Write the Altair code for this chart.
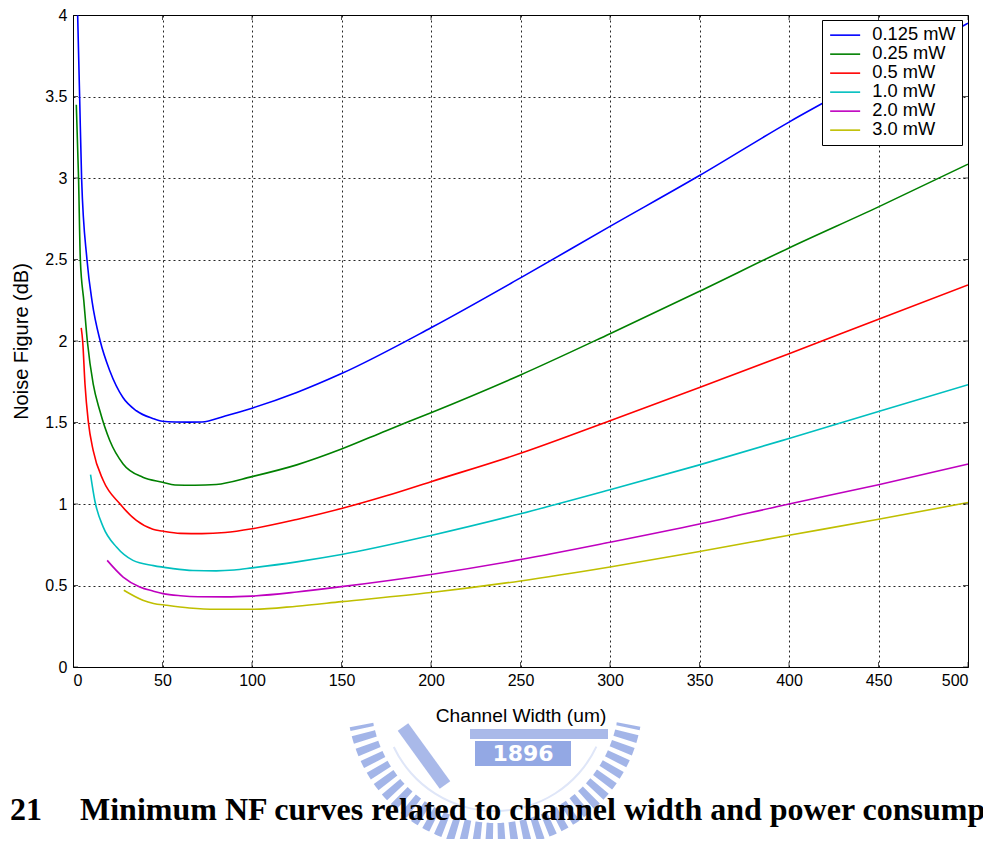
import altair as alt
import pandas as pd

# ---------------- data ----------------
series = ["0.125 mW", "0.25 mW", "0.5 mW", "1.0 mW", "2.0 mW", "3.0 mW"]
colors = ["#0000ff", "#008000", "#ff0000", "#00bfbf", "#bf00bf", "#bfbf00"]

x_0125 = [2.6, 3.7, 4.8, 7.8, 10.7, 15.2, 20.6, 27.9, 35.4, 44.6, 50, 57, 65, 72, 85, 100, 125, 150, 200, 250, 300, 350, 400, 450, 500]
y_0125 = [4.0, 3.5, 3.0, 2.5, 2.24, 2.0, 1.816, 1.653, 1.572, 1.525, 1.508, 1.503, 1.502, 1.503, 1.54, 1.588, 1.684, 1.80, 2.081, 2.387, 2.703, 3.015, 3.343, 3.645, 3.95]

x_025 = [1.85, 3.1, 4.1, 6.1, 8, 11.3, 15, 20.6, 28, 39, 50, 57, 68, 80, 100, 125, 150, 175, 200, 250, 300, 350, 400, 450, 500]
y_025 = [3.45, 3.0, 2.5, 2.24, 2.0, 1.735, 1.572, 1.388, 1.246, 1.164, 1.134, 1.117, 1.115, 1.12, 1.168, 1.24, 1.337, 1.45, 1.56, 1.792, 2.045, 2.305, 2.571, 2.823, 3.085]

x_05 = [4.6, 5.4, 6.7, 8.5, 11.3, 16.9, 26.2, 35.4, 44.6, 50, 60, 72, 85, 100, 125, 150, 175, 200, 250, 300, 350, 400, 450, 500]
y_05 = [2.08, 2.0, 1.735, 1.51, 1.327, 1.144, 1.001, 0.899, 0.845, 0.834, 0.82, 0.818, 0.825, 0.848, 0.905, 0.972, 1.05, 1.137, 1.311, 1.511, 1.715, 1.922, 2.134, 2.344]

x_10 = [9.8, 12.2, 16.9, 24.3, 33.5, 45, 55, 67, 80, 90, 100, 125, 150, 200, 250, 300, 350, 400, 450, 500]
y_10 = [1.18, 1.02, 0.858, 0.736, 0.654, 0.622, 0.605, 0.592, 0.59, 0.595, 0.608, 0.645, 0.69, 0.807, 0.940, 1.087, 1.240, 1.402, 1.568, 1.732]

x_20 = [19.1, 28, 37.3, 45, 50.3, 60, 70, 85, 100, 125, 150, 200, 250, 300, 350, 400, 450, 500]
y_20 = [0.654, 0.552, 0.491, 0.465, 0.45, 0.437, 0.431, 0.43, 0.435, 0.46, 0.493, 0.568, 0.659, 0.765, 0.877, 1.0, 1.118, 1.245]

x_30 = [28.4, 39, 45, 52, 65, 80, 100, 125, 150, 200, 250, 300, 350, 400, 450, 500]
y_30 = [0.471, 0.41, 0.39, 0.379, 0.362, 0.354, 0.354, 0.373, 0.401, 0.457, 0.528, 0.614, 0.709, 0.808, 0.906, 1.009]

x_ticks = [0, 50, 100, 150, 200, 250, 300, 350, 400, 450, 500]
y_ticks = [0, 0.5, 1, 1.5, 2, 2.5, 3, 3.5, 4]

x_title = "Channel Width (um)"
y_title = "Noise Figure (dB)"
fig_label = "Fig. 21"
caption = "Minimum NF curves related to channel width and power consumption"
seal_text = "1896"

# ---------------- build tables ----------------
xs = [x_0125, x_025, x_05, x_10, x_20, x_30]
ys = [y_0125, y_025, y_05, y_10, y_20, y_30]
frames = []
for name, xv, yv in zip(series, xs, ys):
    frames.append(pd.DataFrame({"x": xv, "y": yv, "series": name}))
df = pd.concat(frames, ignore_index=True)

W, H = 895, 652
FONT = "Liberation Sans"
SEAL = "#93a8e4"

xscale = alt.Scale(domain=[0, 500], nice=False, zero=False)
yscale = alt.Scale(domain=[0, 4], nice=False, zero=False)

lines = alt.Chart(df).mark_line(strokeWidth=1.6, interpolate="monotone", clip=True).encode(
    x=alt.X("x:Q", scale=xscale, axis=alt.Axis(
        values=x_ticks, title=x_title, grid=True, ticks=False, domain=False,
        labelFontSize=16, labelPadding=5, titleFontSize=19.2, titleFontWeight="normal",
        titlePadding=18, labelFont=FONT, titleFont=FONT)),
    y=alt.Y("y:Q", scale=yscale, axis=alt.Axis(
        values=y_ticks, format="~g", title=y_title, grid=True, ticks=False, domain=False,
        labelFontSize=16, labelPadding=6, titleFontSize=20, titleFontWeight="normal",
        titlePadding=13, labelFont=FONT, titleFont=FONT)),
    color=alt.Color("series:N", scale=alt.Scale(domain=series, range=colors),
                    legend=alt.Legend(orient="none", legendX=749, legendY=5, title=None,
                                      fillColor="white", strokeColor="black", padding=6,
                                      symbolType="M-3,0H3", symbolSize=100, symbolStrokeWidth=1.6,
                                      symbolOffset=8,
                                      labelFontSize=18.3, labelFont=FONT, labelOffset=18,
                                      labelExpr="datum.label + '\u00a0\u00a0\u00a0'",
                                      rowPadding=0, cornerRadius=0)),
    detail="series:N",
    order="x:Q",
)

xt = pd.DataFrame({"x": x_ticks})
yt = pd.DataFrame({"y": y_ticks})
tick_bottom = alt.Chart(xt).mark_tick(color="black", size=10, thickness=1, clip=True, orient="vertical").encode(
    x=alt.X("x:Q", scale=xscale), y=alt.value(H))
tick_top = alt.Chart(xt).mark_tick(color="black", size=10, thickness=1, clip=True, orient="vertical").encode(
    x=alt.X("x:Q", scale=xscale), y=alt.value(0))
tick_left = alt.Chart(yt).mark_tick(color="black", size=10, thickness=1, clip=True, orient="horizontal").encode(
    y=alt.Y("y:Q", scale=yscale), x=alt.value(0))
tick_right = alt.Chart(yt).mark_tick(color="black", size=10, thickness=1, clip=True, orient="horizontal").encode(
    y=alt.Y("y:Q", scale=yscale), x=alt.value(W))

# ---------------- faint university seal (background watermark) ----------------
one = pd.DataFrame({"t": [seal_text]})
R = 136.0
T1, T2 = 1.76, 4.52
period = 2 * R * (T2 - T1) / 62.0
seal_teeth = alt.Chart(one).mark_arc(
    x=422, y=684, radius=R, radius2=R, theta=T1, theta2=T2,
    fill=None, stroke=SEAL, strokeWidth=24, strokeOpacity=0.85,
    strokeDash=[6.5, period - 6.5], strokeDashOffset=3.25)
seal_inner = alt.Chart(one).mark_arc(
    x=422, y=684, radius=113, radius2=111, theta=T1 + 0.25, theta2=T2 - 0.25,
    fill="#dfe6f8", stroke=None)
seal_band = alt.Chart(one).mark_rect(x=397, x2=535, y=714, y2=724, fill=SEAL, opacity=0.8)
seal_bar = alt.Chart(one).mark_rule(color=SEAL, strokeWidth=13, opacity=0.8).encode(
    x=alt.value(330), y=alt.value(712), x2=alt.value(372), y2=alt.value(770))
seal_box = alt.Chart(one).mark_rect(x=402, x2=498, y=726, y2=751, fill=SEAL)
seal_txt = alt.Chart(one).mark_text(
    x=450, y=739, fontSize=22, fontWeight="bold", color="white", font="DejaVu Sans",
    baseline="middle", align="center").encode(text="t:N")

cap_df = pd.DataFrame({"a": [fig_label], "b": [caption]})
cap1 = alt.Chart(cap_df).mark_text(
    x=-31, y=805, fontSize=32, fontWeight="bold", font="Liberation Serif",
    align="right", baseline="alphabetic", color="black").encode(text="a:N")
cap2 = alt.Chart(cap_df).mark_text(
    x=7, y=805, fontSize=32, fontWeight="bold", font="Liberation Serif",
    align="left", baseline="alphabetic", color="black").encode(text="b:N")

chart = alt.layer(
    seal_teeth, seal_inner, seal_band, seal_bar, seal_box, seal_txt,
    lines, tick_bottom, tick_top, tick_left, tick_right, cap1, cap2
).properties(
    width=W, height=H,
    autosize=alt.AutoSizeParams(type="none"),
    padding={"left": 65, "top": 7, "right": 15, "bottom": 172},
    background="white",
).configure_view(
    stroke="black", strokeWidth=1
).configure_axis(
    gridColor="black", gridDash=[2, 3], gridOpacity=0.85, gridWidth=1,
    labelColor="black", titleColor="black",
)

chart.save("out.html", embed_options={"renderer": "svg", "actions": False})
